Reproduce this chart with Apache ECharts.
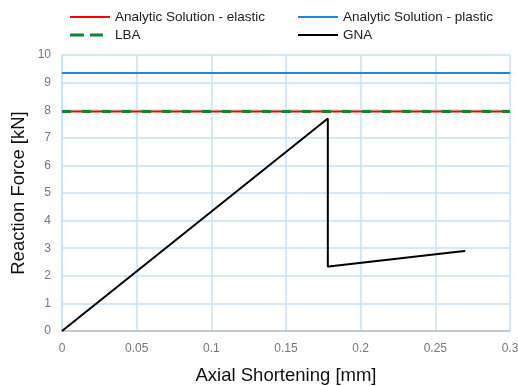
<!DOCTYPE html>
<html>
<head>
<meta charset="utf-8">
<script src="https://cdn.jsdelivr.net/npm/echarts@6/dist/echarts.min.js"></script>
<style>html,body{margin:0;padding:0;background:#fff}#c{width:518px;height:386px}</style>
</head>
<body>
<div id="c"></div>
<script>
// Data
const seriesNames = ['Analytic Solution - elastic', 'Analytic Solution - plastic', 'LBA', 'GNA'];
const elasticLoad = 7.95;   // kN
const plasticLoad = 9.35;   // kN
const lbaLoad = 7.95;       // kN
const xRange = [0, 0.3];
const gnaX = [0, 0.178, 0.178, 0.180, 0.265, 0.270];
const gnaY = [0, 7.70, 2.33, 2.35, 2.87, 2.90];
const xTicks = [0, 0.05, 0.1, 0.15, 0.2, 0.25, 0.3];
const yTicks = [0, 1, 2, 3, 4, 5, 6, 7, 8, 9, 10];

const chart = echarts.init(document.getElementById('c'));
const gnaData = gnaX.map((x, i) => [x, gnaY[i]]);
const hline = v => xRange.map(x => [x, v]);
const solidIcon = 'path://M0,0H40V2H0Z';
const dashIcon = 'path://M0,0H14V3H0Z M20,0H33V3H20Z';
function leg(name, left, top, icon, h) {
  const isDash = icon === dashIcon;
  return { data: [{ name: name, icon: icon }], left: left, top: top, padding: 0,
           itemWidth: isDash ? 33 : 40, itemHeight: h, itemGap: 5,
           textStyle: { fontFamily: 'Liberation Sans', fontSize: 13.5, color: '#222',
                        padding: [0, 0, 0, isDash ? 7 : 0] },
           selectedMode: false };
}
chart.setOption({
  animation: false,
  backgroundColor: '#fff',
  legend: [
    leg(seriesNames[0], 70, 10, solidIcon, 2),
    leg(seriesNames[1], 298, 10, solidIcon, 2),
    leg(seriesNames[2], 70, 28, dashIcon, 3),
    leg(seriesNames[3], 298, 28, solidIcon, 2)
  ],
  grid: { left: 62, right: 8, top: 55, bottom: 55, containLabel: false, outerBoundsMode: 'none' },
  xAxis: {
    type: 'value', min: xTicks[0], max: xTicks[xTicks.length - 1], interval: 0.05,
    name: 'Axial Shortening [mm]', nameLocation: 'middle', nameGap: 35, nameMoveOverlap: false,
    nameTextStyle: { fontFamily: 'Liberation Sans', fontSize: 18.5, color: '#111' },
    axisLine: { lineStyle: { color: '#bfbfbf', width: 1.5 } },
    axisTick: { show: false },
    axisLabel: { margin: 12, color: '#777', fontFamily: 'Liberation Sans', fontSize: 12,
                 formatter: v => String(+v.toFixed(2)) },
    splitLine: { show: true, lineStyle: { color: '#c6e0f6', width: 1.5 } }
  },
  yAxis: {
    type: 'value', min: yTicks[0], max: yTicks[yTicks.length - 1], interval: 1,
    name: 'Reaction Force [kN]', nameLocation: 'middle', nameGap: 34, nameMoveOverlap: false,
    nameTextStyle: { fontFamily: 'Liberation Sans', fontSize: 18.5, color: '#111' },
    axisLine: { show: true, lineStyle: { color: '#c6e0f6', width: 1.5 } },
    axisTick: { show: false },
    axisLabel: { margin: 11, color: '#777', fontFamily: 'Liberation Sans', fontSize: 12 },
    splitLine: { show: true, lineStyle: { color: '#c6e0f6', width: 1.5 } }
  },
  series: [
    { name: seriesNames[0], type: 'line', data: hline(elasticLoad), symbol: 'none',
      lineStyle: { color: '#ff0000', width: 2 }, itemStyle: { color: '#ff0000' } },
    { name: seriesNames[1], type: 'line', data: hline(plasticLoad), symbol: 'none',
      lineStyle: { color: '#1e88e5', width: 2 }, itemStyle: { color: '#1e88e5' } },
    { name: seriesNames[2], type: 'line', data: hline(lbaLoad), symbol: 'none',
      lineStyle: { color: '#0a8a2e', width: 3, type: [9, 11] }, itemStyle: { color: '#0a8a2e' } },
    { name: seriesNames[3], type: 'line', data: gnaData, symbol: 'none',
      lineStyle: { color: '#000', width: 2 }, itemStyle: { color: '#000' } }
  ]
});
</script>
</body>
</html>
